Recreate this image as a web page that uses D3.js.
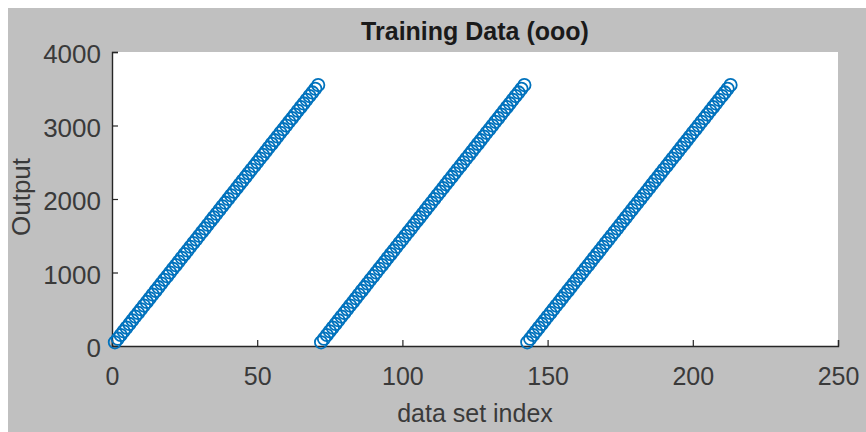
<!DOCTYPE html>
<html>
<head>
<meta charset="utf-8">
<script src="https://cdn.jsdelivr.net/npm/d3@7"></script>
<style>
  html, body { margin: 0; padding: 0; background: #ffffff; }
  svg { display: block; }
  text { font-family: "Liberation Sans", Arial, Helvetica, sans-serif; }
</style>
</head>
<body>
<svg id="chart" width="866" height="432"></svg>
<script>
// Training outputs, one block per pass through the data set
const blockA = [50,100,150,200,250,300,350,400,450,500,550,600,650,700,750,800,850,900,950,1000,
  1050,1100,1150,1200,1250,1300,1350,1400,1450,1500,1550,1600,1650,1700,1750,1800,1850,1900,1950,2000,
  2050,2100,2150,2200,2250,2300,2350,2400,2450,2500,2550,2600,2650,2700,2750,2800,2850,2900,2950,3000,
  3050,3100,3150,3200,3250,3300,3350,3400,3450,3500,3550];
const blockB = [50,100,150,200,250,300,350,400,450,500,550,600,650,700,750,800,850,900,950,1000,
  1050,1100,1150,1200,1250,1300,1350,1400,1450,1500,1550,1600,1650,1700,1750,1800,1850,1900,1950,2000,
  2050,2100,2150,2200,2250,2300,2350,2400,2450,2500,2550,2600,2650,2700,2750,2800,2850,2900,2950,3000,
  3050,3100,3150,3200,3250,3300,3350,3400,3450,3500,3550];
const blockC = [50,100,150,200,250,300,350,400,450,500,550,600,650,700,750,800,850,900,950,1000,
  1050,1100,1150,1200,1250,1300,1350,1400,1450,1500,1550,1600,1650,1700,1750,1800,1850,1900,1950,2000,
  2050,2100,2150,2200,2250,2300,2350,2400,2450,2500,2550,2600,2650,2700,2750,2800,2850,2900,2950,3000,
  3050,3100,3150,3200,3250,3300,3350,3400,3450,3500,3550];

const xTicks = [0, 50, 100, 150, 200, 250];
const yTicks = [0, 1000, 2000, 3000, 4000];
const titleText = "Training Data (ooo)";
const xLabel = "data set index";
const yLabel = "Output";

// Points indexed 1..N across all blocks
const points = blockA.concat(blockB, blockC).map((v, i) => ({ index: i + 1, value: v }));

const svg = d3.select("#chart");
const W = 866, H = 432;

// figure background with a thin white margin on top and left
svg.append("rect").attr("x", 0).attr("y", 0).attr("width", W).attr("height", H).attr("fill", "#ffffff");
svg.append("rect").attr("x", 8).attr("y", 8).attr("width", W - 8).attr("height", H - 8).attr("fill", "#c0c0c0");

const plot = { left: 112, top: 52, right: 838, bottom: 346 };

const x = d3.scaleLinear().domain([0, 250]).range([plot.left, plot.right]);
const y = d3.scaleLinear().domain([0, 4000]).range([plot.bottom, plot.top]);

svg.append("rect")
  .attr("x", plot.left).attr("y", plot.top)
  .attr("width", plot.right - plot.left).attr("height", plot.bottom - plot.top)
  .attr("fill", "#ffffff");

const axisColor = "#262626";
const labelColor = "#3a3a3a";

// x axis (ticks pointing inward)
const gx = svg.append("g")
  .attr("transform", `translate(0,${plot.bottom})`)
  .call(d3.axisBottom(x).tickValues(xTicks).tickSizeInner(-6).tickSizeOuter(-6).tickFormat(d3.format("d")));
gx.select(".domain").attr("stroke", axisColor).attr("stroke-width", 1.4);
gx.selectAll(".tick line").attr("stroke", axisColor).attr("stroke-width", 1.2);
gx.selectAll(".tick text").attr("fill", labelColor).attr("font-size", 25)
  .attr("y", 39).attr("dy", null);

// y axis
const gy = svg.append("g")
  .attr("transform", `translate(${plot.left},0)`)
  .call(d3.axisLeft(y).tickValues(yTicks).tickSizeInner(-6).tickSizeOuter(-6).tickFormat(d3.format("d")));
gy.select(".domain").attr("stroke", axisColor).attr("stroke-width", 1.4);
gy.selectAll(".tick line").attr("stroke", axisColor).attr("stroke-width", 1.2);
gy.selectAll(".tick text").attr("fill", labelColor).attr("font-size", 26)
  .attr("x", -11).attr("dy", "0.42em");

// markers
svg.append("g")
  .selectAll("circle")
  .data(points)
  .join("circle")
  .attr("cx", d => x(d.index))
  .attr("cy", d => y(d.value))
  .attr("r", 6.2)
  .attr("fill", "none")
  .attr("stroke", "#0072BD")
  .attr("stroke-width", 1.8);

// title and labels
svg.append("text")
  .attr("x", (plot.left + plot.right) / 2).attr("y", 40)
  .attr("text-anchor", "middle").attr("font-size", 25).attr("font-weight", "bold")
  .attr("fill", "#1a1a1a").text(titleText);

svg.append("text")
  .attr("x", (plot.left + plot.right) / 2).attr("y", 422)
  .attr("text-anchor", "middle").attr("font-size", 25)
  .attr("fill", labelColor).text(xLabel);

svg.append("text")
  .attr("transform", `translate(30,${(plot.top + plot.bottom) / 2 - 2}) rotate(-90)`)
  .attr("text-anchor", "middle").attr("font-size", 26)
  .attr("fill", labelColor).text(yLabel);
</script>
</body>
</html>
